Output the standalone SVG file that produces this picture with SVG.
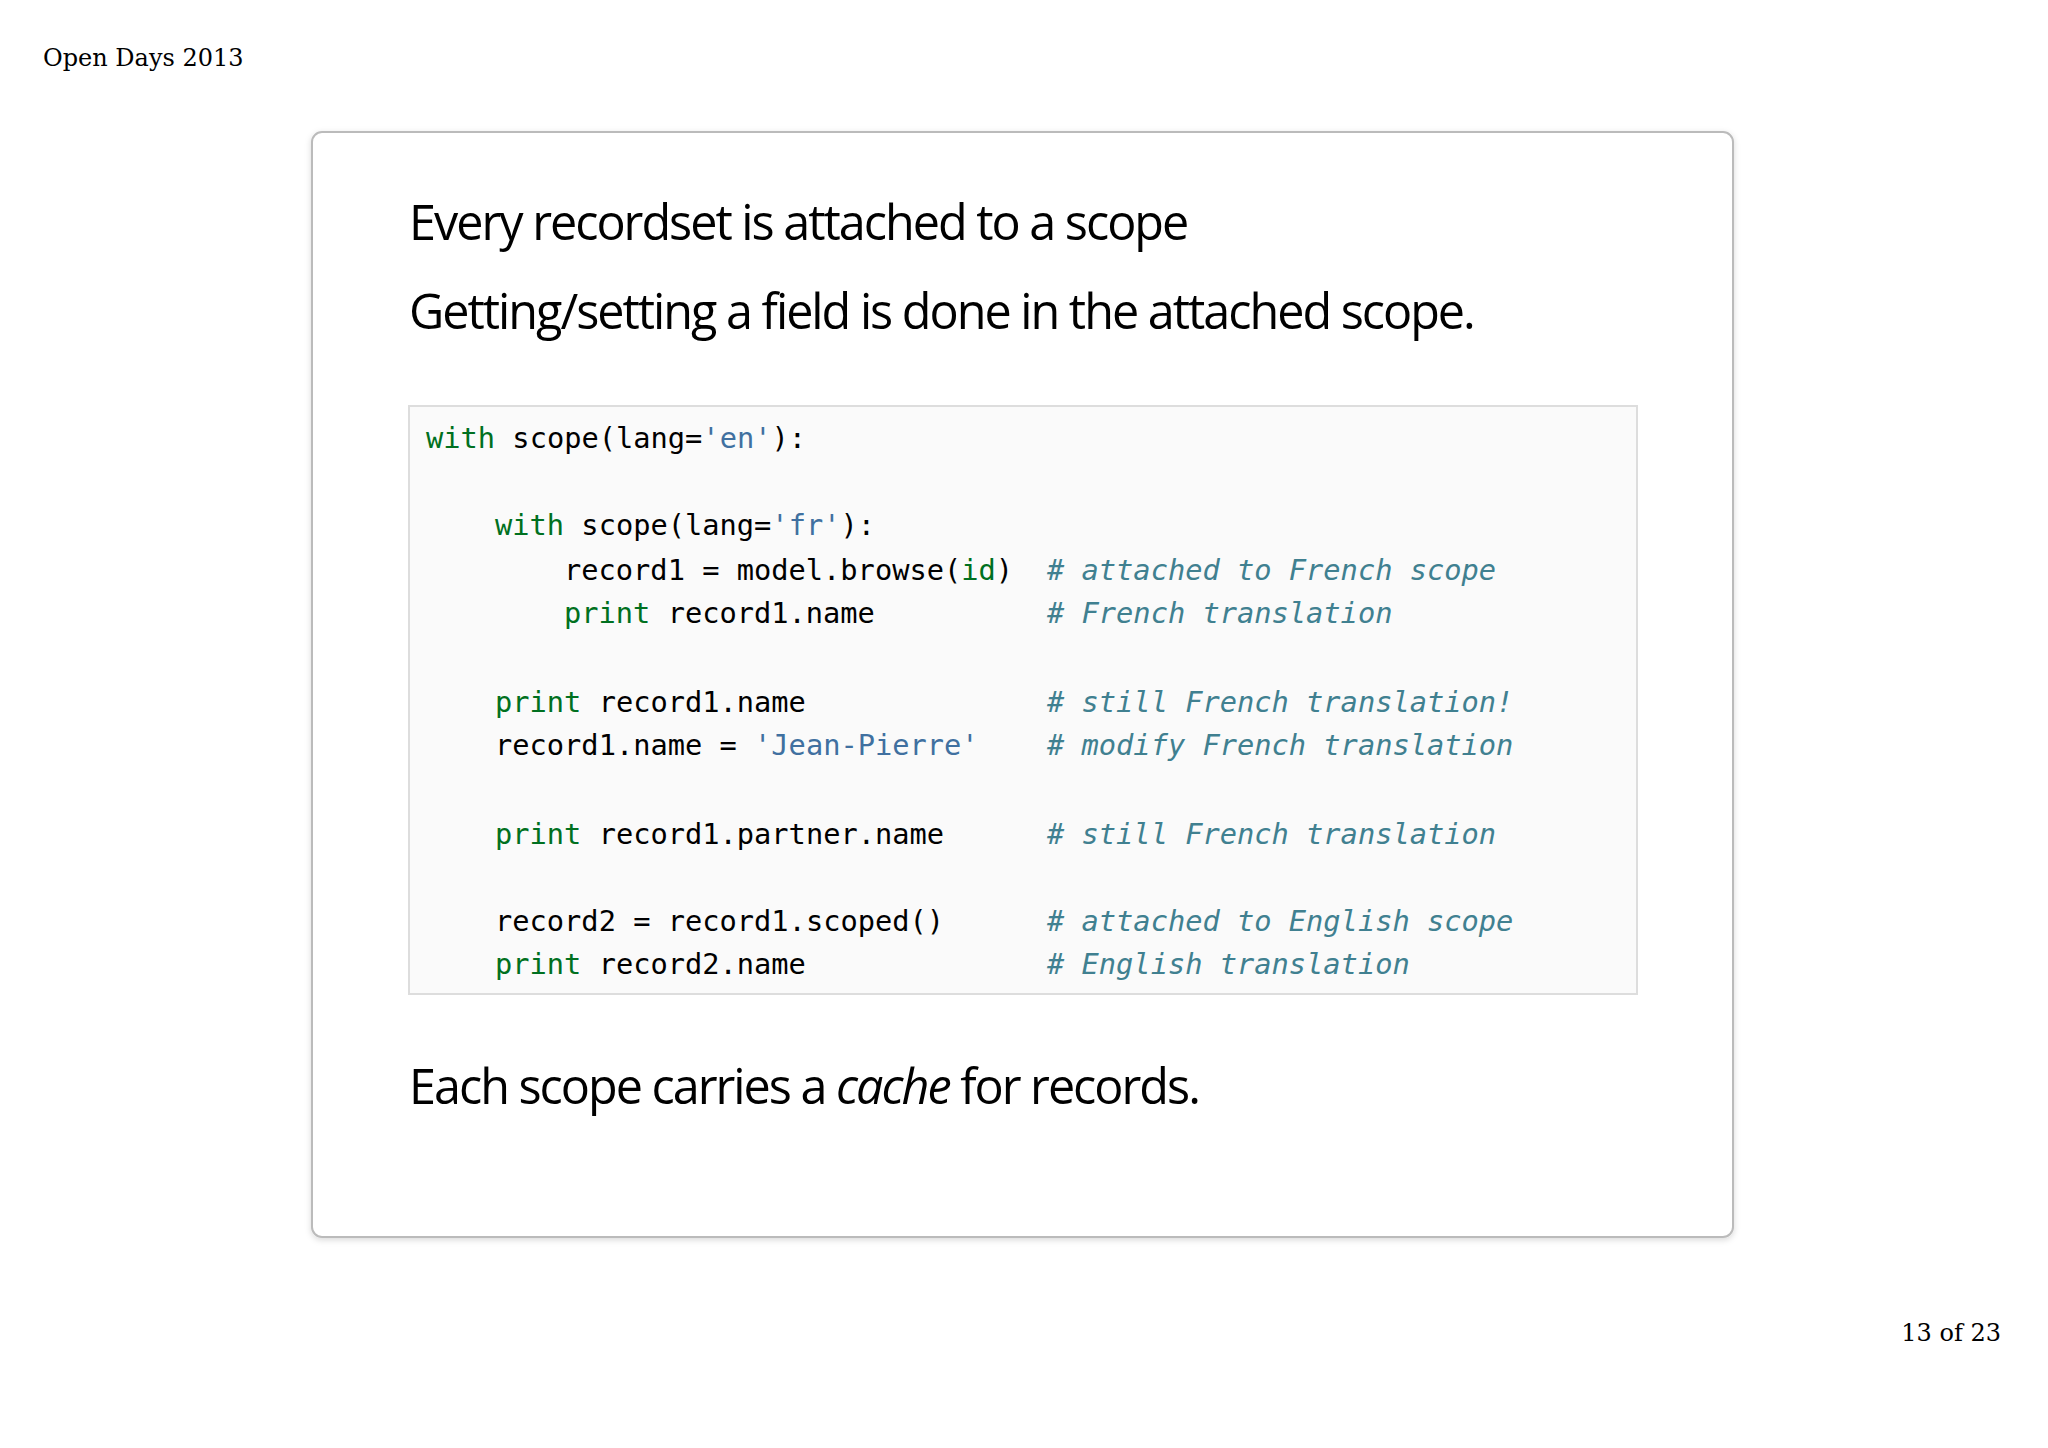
<svg xmlns="http://www.w3.org/2000/svg" width="2048" height="1448" viewBox="0 0 2048 1448">
<defs>
<style>
.hd{font-family:"DejaVu Serif",serif;font-size:24px;fill:#000}
.ti{font-family:"Open Sans",sans-serif;font-size:48.5px;fill:#000;letter-spacing:-2.0px}
.c{font-family:"DejaVu Sans Mono",monospace;font-size:28.7px;fill:#000}
.k{fill:#007020}
.s{fill:#4070a0}
.m{fill:#408090;font-style:italic}
</style>
<filter id="sh" x="-5%" y="-5%" width="110%" height="110%"><feDropShadow dx="0" dy="2" stdDeviation="3" flood-color="#000" flood-opacity="0.15"/></filter>
</defs>
<rect width="2048" height="1448" fill="#fff"/>
<text class="hd" x="43" y="66">Open Days 2013</text>
<text class="hd" x="2001" y="1341" text-anchor="end">13 of 23</text>
<g id="card">
<rect x="312" y="132" width="1421" height="1105" rx="10" fill="#fff" stroke="#bbb" stroke-width="2" filter="url(#sh)"/>
<text class="ti" x="409" y="240">Every recordset is attached to a scope</text>
<text class="ti" x="409" y="329">Getting/setting a field is done in the attached scope.</text>
<text class="ti" x="409" y="1104">Each scope carries a <tspan font-style="italic">cache</tspan> for records.</text>
</g>
<g id="code">
<rect x="409" y="406" width="1228" height="588" fill="#fafafa" stroke="#ddd" stroke-width="2"/>
<text class="c" xml:space="preserve" x="426" y="448"><tspan class="k">with</tspan> scope(lang=<tspan class="s">'en'</tspan>):</text>
<text class="c" xml:space="preserve" x="495" y="535"><tspan class="k">with</tspan> scope(lang=<tspan class="s">'fr'</tspan>):</text>
<text class="c" xml:space="preserve" x="564" y="580">record1 = model.browse(<tspan class="k">id</tspan>)</text>
<text class="c" xml:space="preserve" x="564" y="623"><tspan class="k">print</tspan> record1.name</text>
<text class="c" xml:space="preserve" x="495" y="712"><tspan class="k">print</tspan> record1.name</text>
<text class="c" xml:space="preserve" x="495" y="755">record1.name = <tspan class="s">'Jean-Pierre'</tspan></text>
<text class="c" xml:space="preserve" x="495" y="844"><tspan class="k">print</tspan> record1.partner.name</text>
<text class="c" xml:space="preserve" x="495" y="931">record2 = record1.scoped()</text>
<text class="c" xml:space="preserve" x="495" y="974"><tspan class="k">print</tspan> record2.name</text>
<text class="c m" x="1047" y="580"># attached to French scope</text>
<text class="c m" x="1047" y="623"># French translation</text>
<text class="c m" x="1047" y="712"># still French translation!</text>
<text class="c m" x="1047" y="755"># modify French translation</text>
<text class="c m" x="1047" y="844"># still French translation</text>
<text class="c m" x="1047" y="931"># attached to English scope</text>
<text class="c m" x="1047" y="974"># English translation</text>
</g>
</svg>
